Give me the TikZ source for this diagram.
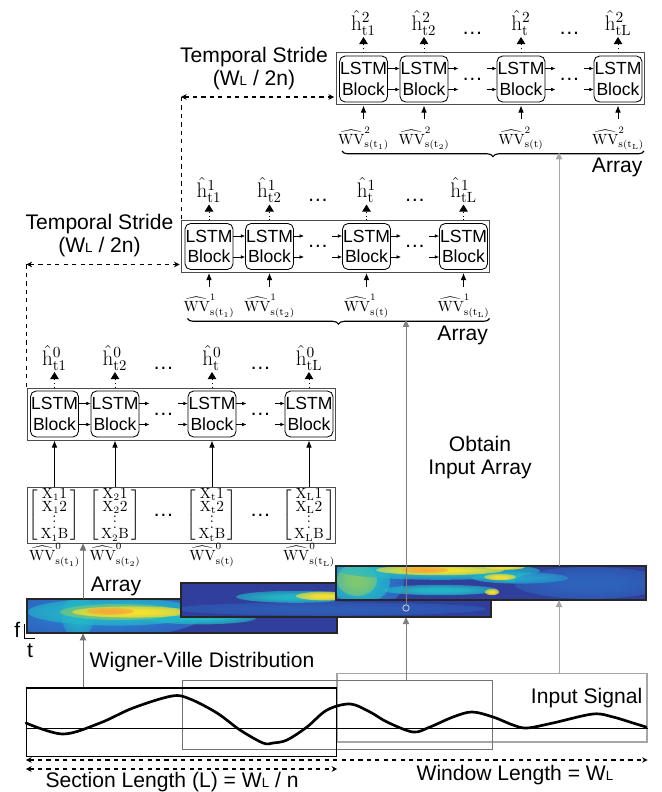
\documentclass[tikz,border=0pt]{standalone}
\usepackage{fontspec}
\setsansfont{Liberation Sans}
\usetikzlibrary{arrows.meta,positioning,decorations.pathreplacing,fadings}
\definecolor{wvBase}{RGB}{48,62,156}
\definecolor{wvMid}{RGB}{45,125,210}
\definecolor{wvCyan}{RGB}{35,185,200}
\definecolor{wvGreen}{RGB}{130,200,110}
\definecolor{wvYellow}{RGB}{248,225,45}
\definecolor{wvOrange}{RGB}{245,170,55}
\pgfdeclareradialshading{wvshade}{\pgfpointorigin}{color(0bp)=(pgftransparent!0);
  color(10bp)=(pgftransparent!6); color(25bp)=(pgftransparent!40);
  color(50bp)=(pgftransparent!100)}
\pgfdeclarefading{wvfade}{\pgfuseshading{wvshade}}
\newcommand{\bigfont}{\sffamily\fontsize{15}{16.5}\selectfont}
\newcommand{\blockfont}{\sffamily\fontsize{12.5}{14.5}\selectfont}
\newcommand{\wsub}{W{\fontsize{9.5}{10}\selectfont L}}
\newcommand{\wvblob}[4]{\fill[#1, path fading=wvfade] (#2) ellipse (#3 and #4);}
\newcommand{\xvec}[1]{$\left[\renewcommand{\arraystretch}{0.68}%
  \begin{array}{@{\,}c@{\,}}\mathrm{X}_{#1}1\\ \mathrm{X}_{#1}2\\[-5pt]
  \vdots\\[-2pt] \mathrm{X}_{#1}\mathrm{B}\end{array}\right]$}

\begin{document}
\begin{tikzpicture}[
    lstm/.style={rectangle, rounded corners=4pt, draw, line width=0.6pt,
                 minimum width=12mm, minimum height=11.5mm, inner sep=0pt,
                 align=center, font=\blockfont},
    grp/.style={rectangle, draw=black!70, line width=0.7pt,
                minimum width=77mm, minimum height=13mm},
    lbl/.style={font=\bigfont, inner sep=1pt},
    hlab/.style={font=\fontsize{15}{15}\selectfont, inner sep=1pt, anchor=south},
    wvlab/.style={font=\fontsize{10.5}{11}\selectfont, inner sep=1pt},
    vec/.style={font=\fontsize{10.5}{10.5}\selectfont, inner sep=0pt},
    chain/.style={-{Latex[length=3pt,width=2.5pt]}, line width=0.4pt},
    inarr/.style={-{Latex[length=5pt,width=4pt]}, line width=0.6pt},
    outarr/.style={-{Triangle[length=5pt,width=6pt]}, dotted, line width=0.6pt},
    stride/.style={{Stealth[length=4pt,width=4pt]}-{Stealth[length=4pt,width=4pt]},
                   dashed, line width=0.8pt},
    brc/.style={decorate, decoration={brace, mirror, amplitude=4pt}, line width=0.8pt},
    wvmap/.style={rectangle, fill=wvBase, minimum width=77.5mm,
                  minimum height=8.4mm, inner sep=0pt},
    wvframe/.style={draw=black!85, line width=1.3pt},
    win/.style={rectangle, minimum width=77.5mm, minimum height=17.2mm, line width=0.9pt},
    feed/.style={-{Triangle[length=5pt,width=4.5pt]}, line width=0.7pt},
    signal/.style={line width=1.9pt, line join=round, line cap=round}
  ]
  \useasboundingbox (0,0) rectangle (16.55,19.8);

  % LSTM rows, one per level
  \foreach \lev in {0,1,2}{
    \begin{scope}[shift={(\lev*3.8625,\lev*4.1875)}]
      \node[grp] (grp\lev) at (4.525,9.45) {};
      \node[lstm] (blk\lev-1) at (1.3625,9.45) {LSTM\\Block};
      \node[lstm] (blk\lev-2) at (2.875,9.45)  {LSTM\\Block};
      \node[lstm] (blk\lev-3) at (5.3,9.45)    {LSTM\\Block};
      \node[lstm] (blk\lev-4) at (7.725,9.45)  {LSTM\\Block};
      \node[lbl] (dl\lev-a) at (4.0875,9.45) {\dots};
      \node[lbl] (dl\lev-b) at (6.5125,9.45) {\dots};
      \foreach \dy in {0.2625,-0.2625}{
        \draw[chain] ([yshift=\dy cm]blk\lev-1.east) -- ([yshift=\dy cm]blk\lev-2.west);
        \draw[chain] ([yshift=\dy cm]blk\lev-2.east) -- ++(0.25,0);
        \draw[chain] ([xshift=-0.25cm,yshift=\dy cm]blk\lev-3.west) -- ([yshift=\dy cm]blk\lev-3.west);
        \draw[chain] ([yshift=\dy cm]blk\lev-3.east) -- ++(0.25,0);
        \draw[chain] ([xshift=-0.25cm,yshift=\dy cm]blk\lev-4.west) -- ([yshift=\dy cm]blk\lev-4.west);
      }
      \foreach \idx/\sub in {1/t1,2/t2,3/t,4/tL}{
        \node[hlab] (h\lev-\idx) at (blk\lev-\idx |- 0,10.5) {$\hat{\mathrm{h}}^{\lev}_{\mathrm{\sub}}$};
        \draw[outarr] (blk\lev-\idx |- grp\lev.north) -- (h\lev-\idx.south);
      }
      \node[lbl] (hd\lev-a) at (4.0875,10.6) {\dots};
      \node[lbl] (hd\lev-b) at (6.5125,10.6) {\dots};
    \end{scope}
  }

  % inputs of the upper levels
  \foreach \lev [evaluate=\lev as \prv using int(\lev-1)] in {1,2}{
    \begin{scope}[shift={(\lev*3.8625,\lev*4.1875)}]
      \foreach \idx/\sub in {1/t_1,2/t_2,3/t,4/t_L}{
        \node[wvlab] (wv\lev-\idx) at (blk\lev-\idx |- 0,7.96)
          {$\widehat{\mathrm{WV}}^{\lev}_{\mathrm{s(\sub)}}$};
        \draw[inarr, shorten <=4pt] (wv\lev-\idx.north) -- (blk\lev-\idx |- grp\lev.south);
      }
      \coordinate (brL\lev) at (0.825,7.65);
      \coordinate (brR\lev) at (8.375,7.65);
      \draw[brc] (brL\lev) -- (brR\lev);
      \node[lbl, anchor=east] (ar\lev) at (8.375,7.23) {Array};
      \node[lbl, align=center] (ts\lev) at (-1.375,9.72) {Temporal Stride\\(\wsub\ / 2n)};
      \draw[stride, shorten >=1pt] (grp\prv.west |- 0,9.0) -- (grp\lev.west |- 0,9.0);
      \draw[dashed, line width=0.6pt] (grp\prv.west |- 0,9.0) -- (grp\prv.north west);
    \end{scope}
  }

  % input array of level 0
  \node[grp, minimum height=14mm] (arr0) at (4.525,6.925) {};
  \foreach \idx/\sub in {1/1,2/2,3/\mathrm{t},4/\mathrm{L}}{
    \node[vec] (x0-\idx) at (blk0-\idx |- arr0) {\xvec{\sub}};
    \draw[inarr] (blk0-\idx |- arr0.north) -- (blk0-\idx |- grp0.south);
  }
  \foreach \idx/\sub in {1/t_1,2/t_2,3/t,4/t_L}
    \node[wvlab] (wv0-\idx) at (blk0-\idx |- 0,5.92) {$\widehat{\mathrm{WV}}^{0}_{\mathrm{s(\sub)}}$};
  \node[lbl] (xd-a) at (4.0875,6.925) {\dots};
  \node[lbl] (xd-b) at (6.5125,6.925) {\dots};
  \node[lbl] (ar0) at (2.9,5.15) {Array};

  % Wigner-Ville maps
  \node[wvmap] (sp0) at (4.55,4.395) {};
  \begin{scope}
    \clip (sp0.south west) rectangle (sp0.north east);
    \wvblob{wvMid}{2.5,4.45}{2.6}{0.6}
    \wvblob{wvCyan, opacity=0.8}{1.95,4.4}{0.4}{0.55}
    \wvblob{wvCyan}{2.9,4.5}{2.2}{0.34}
    \wvblob{wvCyan}{5.0,4.35}{1.4}{0.16}
    \wvblob{wvGreen}{3.0,4.5}{1.5}{0.2}
    \wvblob{wvYellow}{3.3,4.5}{1.5}{0.14}
    \wvblob{wvOrange}{2.75,4.52}{0.6}{0.09}
  \end{scope}
  \draw[wvframe] (sp0.south west) rectangle (sp0.north east);

  \node[wvmap] (sp1) at (8.4,4.8) {};
  \begin{scope}
    \clip (sp1.south west) rectangle (sp1.north east);
    \wvblob{wvMid, opacity=0.5}{8.25,4.575}{3.9}{0.17}
    \wvblob{wvCyan}{7.4,4.88}{1.5}{0.15}
    \wvblob{wvYellow}{8.1,4.9}{0.7}{0.11}
  \end{scope}
  \draw[wvframe] (sp1.south west) rectangle (sp1.north east);

  \node[wvmap] (sp2) at (12.275,5.225) {};
  \begin{scope}
    \clip (sp2.south west) rectangle (sp2.north east);
    \wvblob{wvMid}{9.0,5.25}{1.1}{0.7}
    \wvblob{wvCyan}{9.0,5.25}{0.75}{0.55}
    \wvblob{wvGreen}{8.925,5.3}{0.5}{0.4}
    \wvblob{wvCyan}{11.0,5.525}{2.5}{0.22}
    \wvblob{wvYellow}{11.0,5.55}{1.6}{0.13}
    \wvblob{wvOrange}{10.625,5.55}{0.6}{0.08}
    \wvblob{wvCyan}{13.0,5.35}{1.2}{0.14}
    \wvblob{wvYellow}{12.5,5.375}{0.4}{0.08}
    \wvblob{wvYellow}{12.625,5.625}{0.5}{0.07}
    \wvblob{wvCyan}{11.0,5.05}{1.45}{0.13}
    \wvblob{wvYellow}{12.3,5.0}{0.18}{0.08}
    \wvblob{wvMid, opacity=0.6}{14.75,5.225}{1.9}{0.4}
  \end{scope}
  \draw[wvframe] (sp2.south west) rectangle (sp2.north east);

  \node[lbl] (fax) at (0.43,4.05) {f};
  \node[lbl] (tax) at (0.75,3.53) {t};
  \draw[line width=0.6pt] (0.6,4.2) -- (0.6,3.85) -- (0.875,3.85);

  % input signal and windows
  \node[win, draw=black!35] (win2) at (12.3,2.11) {};
  \node[win, draw=black!55] (win1) at (8.44,1.925) {};
  \node[win, draw=black] (win0) at (4.54,1.74) {};
  \draw[line width=0.4pt] (win0.west |- 0,1.6) -- (win2.east |- 0,1.6);
  \draw[signal] plot[smooth, tension=0.55] coordinates {
    (0.65,1.725) (1.575,1.45) (2.5,1.725) (3.325,2.1) (4.3,2.4) (4.75,2.325)
    (5.425,1.975) (6.0,1.55) (6.575,1.225) (6.825,1.225) (7.175,1.3) (7.675,1.625)
    (8.175,2.05) (8.75,2.2) (9.25,2.0) (9.675,1.75) (10.325,1.5) (10.75,1.625)
    (11.325,1.875) (11.8,2.0) (12.325,1.875) (12.825,1.675) (13.175,1.6)
    (13.825,1.725) (14.825,1.95) (15.325,1.875) (15.825,1.725) (16.15,1.625)};
  \node[lbl, anchor=east] (insig) at (16.1,2.35) {Input Signal};
  \node[lbl] (wvd) at (5.05,3.25) {Wigner-Ville Distribution};
  \node[lbl, align=center] (obt) at (12.0,8.36) {Obtain\\Input Array};

  % feeding lines
  \coordinate (tap0) at (2.075,0);
  \coordinate (tap1) at (10.15,0);
  \coordinate (tap2) at (13.975,0);
  \node[circle, draw=white!80!black, line width=0.6pt, minimum size=1.6mm,
        inner sep=0pt] (dot1) at (10.15,4.6) {};
  \draw[feed, draw=black!55] (tap0 |- win0.north) -- (tap0 |- sp0.south);
  \draw[feed, draw=black!55] (tap0 |- sp0.north) -- (tap0 |- arr0.south);
  \draw[feed, draw=black!50] (tap1 |- win1.north) -- (tap1 |- sp1.south);
  \draw[feed, draw=black!50, shorten >=1pt] (dot1) -- (tap1 |- brL1);
  \draw[feed, draw=black!35] (tap2 |- win2.north) -- (tap2 |- sp2.south);
  \draw[feed, draw=black!35, shorten >=1pt] (tap2 |- sp2.north) -- (tap2 |- brL2);

  % lengths
  \draw[stride] (win0.south west |- 0,0.8) -- (win2.south east |- 0,0.8);
  \draw[stride] (win0.south west |- 0,0.575) -- (win0.south east |- 0,0.575);
  \node[lbl] (secl) at (4.3,0.25) {Section Length (L) = \wsub\ / n};
  \node[lbl] (winl) at (12.875,0.425) {Window Length = \wsub};
\end{tikzpicture}
\end{document}
